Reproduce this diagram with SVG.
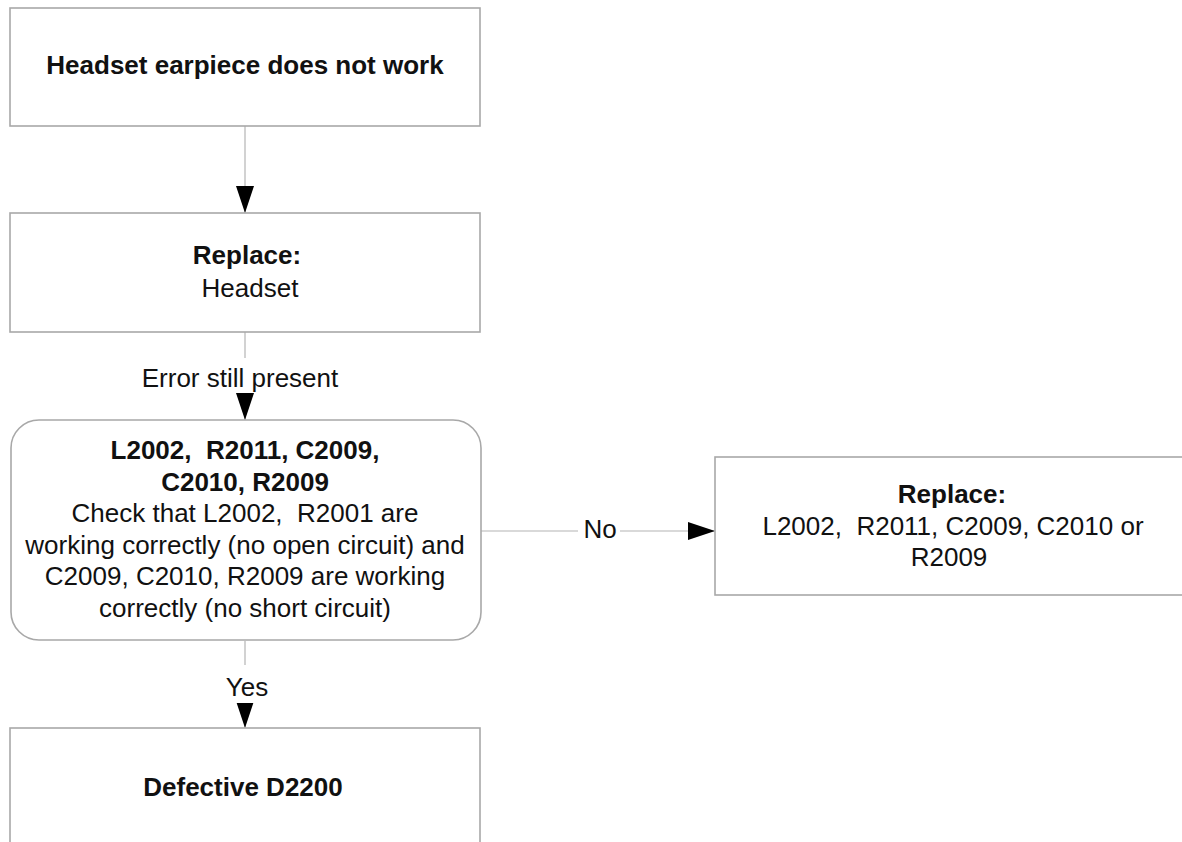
<svg xmlns="http://www.w3.org/2000/svg" width="1182" height="842" viewBox="0 0 1182 842">
<defs>
<style>
.box{fill:#fff;stroke:#a8a8a8;stroke-width:1.6}
.con{fill:none;stroke:#b4b4b4;stroke-width:1.2}
text{font-family:"Liberation Sans",Arial,sans-serif;font-size:26px;fill:#111;text-anchor:middle;white-space:pre}
.b{font-weight:bold}
.lbg{fill:#fff}
</style>
<marker id="arr" markerUnits="userSpaceOnUse" markerWidth="28" markerHeight="20" refX="27" refY="9.5" orient="auto" viewBox="0 0 28 20">
<path d="M0,0.5 L27,9.5 L0,18.5 Z" fill="#000"/>
</marker>
</defs>
<rect width="1182" height="842" fill="#fff"/>
<g id="connectors">
<line class="con" x1="245" y1="126" x2="245" y2="213" marker-end="url(#arr)"/>
<line class="con" x1="245" y1="332" x2="245" y2="420" marker-end="url(#arr)"/>
<rect class="lbg" x="138" y="358" width="206" height="35"/>
<text x="240" y="387">Error still present</text>
<line class="con" x1="481" y1="531" x2="715" y2="531" marker-end="url(#arr)"/>
<rect class="lbg" x="578" y="516" width="42" height="28"/>
<text x="600" y="538">No</text>
<line class="con" x1="245" y1="641" x2="245" y2="728" marker-end="url(#arr)"/>
<rect class="lbg" x="220" y="665" width="54" height="38"/>
<text x="247" y="696">Yes</text>
</g>
<g id="n1">
<rect class="box" x="10" y="8" width="470" height="118"/>
<text class="b" x="245" y="74">Headset earpiece does not work</text>
</g>
<g id="n2">
<rect class="box" x="10" y="213" width="470" height="119"/>
<text class="b" x="247" y="264">Replace:</text>
<text x="250" y="297">Headset</text>
</g>
<g id="n3">
<rect class="box" x="11" y="420" width="470" height="220" rx="28" ry="28"/>
<text class="b" x="245" y="459">L2002,  R2011, C2009,</text>
<text class="b" x="245" y="491">C2010, R2009</text>
<text x="245" y="522">Check that L2002,  R2001 are</text>
<text x="245" y="554">working correctly (no open circuit) and</text>
<text x="245" y="585">C2009, C2010, R2009 are working</text>
<text x="245" y="617">correctly (no short circuit)</text>
</g>
<g id="n4">
<rect class="box" x="715" y="457" width="470" height="138"/>
<text class="b" x="952" y="503">Replace:</text>
<text x="953" y="535">L2002,  R2011, C2009, C2010 or</text>
<text x="949" y="566">R2009</text>
</g>
<g id="n5">
<rect class="box" x="10" y="728" width="470" height="130"/>
<text class="b" x="243" y="796">Defective D2200</text>
</g>
</svg>
